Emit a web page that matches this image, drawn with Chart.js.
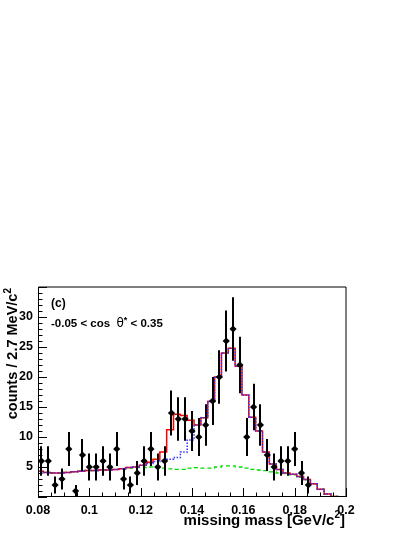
<!DOCTYPE html>
<html><head><meta charset="utf-8">
<script src="https://cdn.jsdelivr.net/npm/chart.js@4/dist/chart.umd.min.js"></script>
<style>html,body{margin:0;padding:0;background:#fff;}#wrap{width:415px;height:537px;position:relative;}</style>
</head><body><div id="wrap"><canvas id="c" width="415" height="537"></canvas></div>
<script>
// ---- data ----
const X_MIN = 0.08, X_MAX = 0.2, Y_MIN = 0, Y_MAX = 35;
const BIN_WIDTH = 0.12 / 45;            // ~2.7 MeV/c^2
const MC_SHIFT = 0.8;                   // MC histogram edge offset (in bins)
const xTickValues = [0.08, 0.1, 0.12, 0.14, 0.16, 0.18, 0.2];
const yTickValues = [5, 10, 15, 20, 25, 30];
const dataCounts = [6,6,2,3,8,1,7,5,5,6,5,8,3,2,4,6,8,5,6,14,13,13,11,10,12,16,20,26,28,22,10,15,12,7,5,6,6,8,4,2];
const dataErrors = [2.45,2.45,1.41,1.73,2.83,1.0,2.65,2.24,2.24,2.45,2.24,2.83,1.73,1.41,2.0,2.45,2.83,2.24,2.45,3.74,3.61,3.61,3.32,3.16,3.46,4.0,4.47,5.1,5.29,4.69,3.16,3.87,3.46,2.65,2.24,2.45,2.45,2.83,2.0,1.41];
const totalFit = [4.3, 4.1,4.0,4.0,4.1,4.2,4.3,4.4,4.4,4.5,4.5, 4.6,4.7,4.9,5.0,5.3,5.8,6.3,7.5,11.2,13.8, 13.6,12.8,12.0,13.2,15.9,20.0,24.0,24.8,21.8,17.0, 13.3,11.0,7.5,5.5,4.6,4.0,3.8,3.4,2.9,2.2, 1.3,0.5,0.1,0.05,0.05];
const altFit   = [4.3, 4.1,4.0,4.0,4.1,4.2,4.3,4.4,4.4,4.5,4.5, 4.6,4.7,4.9,5.0,5.3,5.6,5.9,6.1,6.3,6.6, 7.5,9.5,12.0,13.2,15.9,20.0,24.0,24.8,21.8,17.0, 13.3,11.0,7.5,5.5,4.6,4.0,3.8,3.4,2.9,2.2, 1.3,0.5,0.1,0.05,0.05];
const background = [4.3, 4.1,4.0,4.0,4.1,4.2,4.3,4.4,4.4,4.5,4.5, 4.6,4.7,4.8,4.9,4.9,5.0,4.9,4.8,4.7,4.6, 4.6,4.8,4.9,4.8,4.8,5.0,5.2,5.2,5.0,4.8, 4.6,4.5,4.4,4.2,4.0,3.9,3.7,3.3,2.9,2.2, 1.3,0.5,0.1,0.05,0.05];
const panelLabel = '(c)';
const cutLabel = ['-0.05 < cos  ', 'θ', '*', ' < 0.35'];
const yTitle = ['counts / 2.7 MeV/c', '2'];
const xTitle = ['missing mass [GeV/c', '2', ']'];

// ---- build datasets ----
const dataX = dataCounts.map((_, i) => X_MIN + (i + 0.5) * BIN_WIDTH);
const points = dataCounts.map((v, i) => ({x: dataX[i], y: v}));
function stepData(vals) {
  const xs = [X_MIN];
  for (let k = 0; k < vals.length - 1; k++) xs.push(X_MIN + (k + MC_SHIFT) * BIN_WIDTH);
  xs.push(X_MAX);
  const ys = vals.concat([vals[vals.length - 1]]);
  return xs.map((x, i) => ({x, y: ys[i]}));
}

const FONT = '"Liberation Sans", Arial, Helvetica, sans-serif';

const decor = {
  id: 'decor',
  afterDatasetDraw(chart, args) {
    if (args.index !== 1) return;
    const ctx = chart.ctx, xs = chart.scales.x, ys = chart.scales.y;
    ctx.save();
    ctx.strokeStyle = '#000'; ctx.lineWidth = 2;
    dataCounts.forEach((v, i) => {
      const px = Math.round(xs.getPixelForValue(dataX[i]));
      const top = ys.getPixelForValue(Math.min(v + dataErrors[i], Y_MAX));
      const bot = ys.getPixelForValue(Math.max(v - dataErrors[i], Y_MIN));
      ctx.beginPath(); ctx.moveTo(px, top); ctx.lineTo(px, bot); ctx.stroke();
    });
    ctx.restore();
  },
  afterDraw(chart) {
    const ctx = chart.ctx, xs = chart.scales.x, ys = chart.scales.y, a = chart.chartArea;
    ctx.save();
    // frame
    ctx.strokeStyle = '#000'; ctx.lineWidth = 1;
    ctx.beginPath();
    ctx.moveTo(a.left + 0.5, a.top); ctx.lineTo(a.right, a.top); ctx.lineTo(a.right, a.bottom - 0.5);
    ctx.stroke();
    ctx.beginPath();
    ctx.moveTo(a.left + 0.5, a.top); ctx.lineTo(a.left + 0.5, a.bottom - 0.5); ctx.lineTo(a.right, a.bottom - 0.5);
    ctx.stroke();
    // inner ticks
    ctx.beginPath();
    for (let v = 0; v <= 35; v++) {
      const py = Math.round(ys.getPixelForValue(v)) + 0.5;
      const len = v % 5 === 0 ? 9 : 4.5;
      ctx.moveTo(a.left, py); ctx.lineTo(a.left + len, py);
    }
    for (let i = 0; i <= 24; i++) {
      const v = X_MIN + i * 0.005;
      const px = Math.round(xs.getPixelForValue(v)) + 0.5;
      const len = i % 4 === 0 ? 9 : 4.5;
      ctx.moveTo(px, a.bottom); ctx.lineTo(px, a.bottom - len);
    }
    ctx.stroke();
    ctx.fillStyle = '#000';
    // panel annotations
    ctx.font = 'bold 12px ' + FONT;
    ctx.textBaseline = 'alphabetic'; ctx.textAlign = 'left';
    ctx.fillText(panelLabel, 51, 307);
    let x = 51;
    ctx.font = 'bold 11.5px ' + FONT; ctx.fillText(cutLabel[0], x, 327); x += ctx.measureText(cutLabel[0]).width;
    ctx.font = '12px "DejaVu Sans", sans-serif'; ctx.fillText(cutLabel[1], x, 327); x += ctx.measureText(cutLabel[1]).width;
    ctx.font = 'bold 9px ' + FONT; ctx.fillText(cutLabel[2], x, 323); x += ctx.measureText(cutLabel[2]).width;
    ctx.font = 'bold 11.5px ' + FONT; ctx.fillText(cutLabel[3], x, 327);
    // x title
    ctx.font = 'bold 15px ' + FONT;
    const w3 = ctx.measureText(xTitle[2]).width;
    ctx.font = 'bold 10px ' + FONT;
    const w2 = ctx.measureText(xTitle[1]).width;
    ctx.font = 'bold 15px ' + FONT;
    const w1 = ctx.measureText(xTitle[0]).width;
    let xe = a.right - 1 - w3 - w2 - w1;
    ctx.fillText(xTitle[0], xe, 525);
    ctx.font = 'bold 10px ' + FONT; ctx.fillText(xTitle[1], xe + w1, 518);
    ctx.font = 'bold 15px ' + FONT; ctx.fillText(xTitle[2], xe + w1 + w2, 525);
    // y title
    ctx.translate(17, a.top);
    ctx.rotate(-Math.PI / 2);
    ctx.font = 'bold 10px ' + FONT;
    const s2 = ctx.measureText(yTitle[1]).width;
    ctx.font = 'bold 14.5px ' + FONT;
    const s1 = ctx.measureText(yTitle[0]).width;
    ctx.fillText(yTitle[0], -(s1 + s2) - 1, 0);
    ctx.font = 'bold 10px ' + FONT;
    ctx.fillText(yTitle[1], -s2 - 1, -6);
    ctx.restore();
  }
};

new Chart(document.getElementById('c'), {
  type: 'scatter',
  data: {
    datasets: [
      {label: 'data', data: points, pointStyle: 'rectRot', pointRadius: 3.6, backgroundColor: '#000', borderColor: '#000', borderWidth: 0, showLine: false},
      {label: 'alt', data: stepData(altFit), showLine: true, stepped: 'before', borderColor: '#3333ff', borderWidth: 1.5, borderDash: [1.5, 1.5], pointRadius: 0, fill: false},
      {label: 'total', data: stepData(totalFit), showLine: true, stepped: 'before', borderColor: '#ff0000', borderWidth: 1.5, pointRadius: 0, fill: false},
      {label: 'bkg', data: stepData(background), showLine: true, stepped: 'before', borderColor: '#00dd00', borderWidth: 1.3, borderDash: [4, 3], pointRadius: 0, fill: false}
    ]
  },
  options: {
    responsive: false, animation: false, devicePixelRatio: 1,
    layout: {padding: {top: 287, right: 69, left: 0, bottom: 0}},
    plugins: {legend: {display: false}, tooltip: {enabled: false}},
    scales: {
      x: {
        type: 'linear', min: X_MIN, max: X_MAX,
        afterBuildTicks: s => { s.ticks = xTickValues.map(v => ({value: v})); },
        afterFit: s => { s.height = 40; },
        grid: {display: false, drawTicks: false}, border: {display: false},
        ticks: {padding: 6, color: '#000', font: {family: FONT, size: 12.5, weight: 'bold'}, maxRotation: 0, autoSkip: false,
          callback: v => String(Number(v.toFixed(2)))}
      },
      y: {
        type: 'linear', min: Y_MIN, max: Y_MAX,
        afterBuildTicks: s => { s.ticks = yTickValues.map(v => ({value: v})); },
        afterFit: s => { s.width = 38; },
        grid: {display: false, drawTicks: false}, border: {display: false},
        ticks: {padding: 5, color: '#000', font: {family: FONT, size: 12.5, weight: 'bold'}, autoSkip: false,
          callback: v => String(v)}
      }
    }
  },
  plugins: [decor]
});
</script></body></html>
